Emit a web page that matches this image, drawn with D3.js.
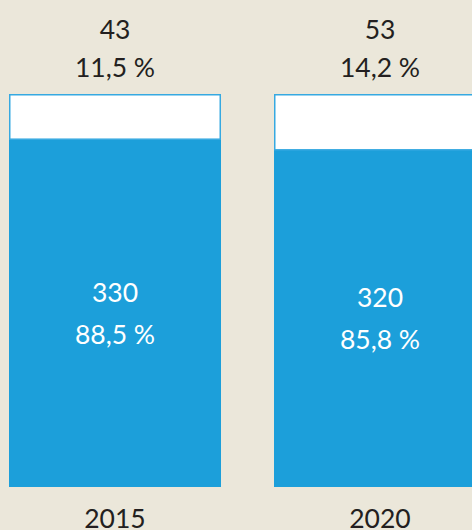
<!DOCTYPE html>
<html><head><meta charset="utf-8">
<script src="https://cdn.jsdelivr.net/npm/d3@7"></script>
<style>
html,body{margin:0;padding:0;background:#ebe7da;}
svg{display:block;}
text{font-family:Lato,"Open Sans",sans-serif;}
</style></head>
<body>
<svg id="c" width="472" height="530"></svg>
<script>
const years = ["2015", "2020"];
const topCounts = [43, 53];
const topPercents = [11.5, 14.2];
const bottomCounts = [330, 320];
const bottomPercents = [88.5, 85.8];

const svg = d3.select("#c");
svg.append("rect").attr("width",472).attr("height",530).attr("fill","#ebe7da");

const x = d3.scaleBand().domain(years).range([9, 486]).paddingInner(0.2).paddingOuter(0);
const y = d3.scaleLinear().domain([0, 100]).range([487, 94]);
const fmt = v => d3.format(".1f")(v).replace(".", ",") + " %";
const FS = 26.5, FW = 400;

const g = svg.selectAll("g.bar").data(years).enter().append("g");

g.append("rect")
  .attr("x", d => x(d))
  .attr("width", x.bandwidth())
  .attr("y", (d,i) => y(bottomPercents[i]))
  .attr("height", (d,i) => y(0) - y(bottomPercents[i]))
  .attr("fill", "#1c9fda");

g.append("rect")
  .attr("x", d => x(d) + 0.75)
  .attr("width", x.bandwidth() - 1.5)
  .attr("y", y(100) + 0.75)
  .attr("height", (d,i) => y(bottomPercents[i]) - y(100) - 0.75)
  .attr("fill", "#fff")
  .attr("stroke", "#36a9e1")
  .attr("stroke-width", 1.5);

const cx = d => x(d) + x.bandwidth()/2;

function label(yPos, color, textFn) {
  g.append("text").attr("x", cx).attr("y", yPos).attr("text-anchor","middle")
    .attr("font-size", FS).attr("font-weight", FW).attr("fill", color).text(textFn);
}
const mid = i => (y(bottomPercents[i]) + y(0)) / 2;

label(39, "#231f20", (d,i) => topCounts[i]);
label(77, "#231f20", (d,i) => fmt(topPercents[i]));
label((d,i) => mid(i) - 11, "#fff", (d,i) => bottomCounts[i]);
label((d,i) => mid(i) + 31, "#fff", (d,i) => fmt(bottomPercents[i]));
label(528, "#231f20", d => d);
</script>
</body></html>
